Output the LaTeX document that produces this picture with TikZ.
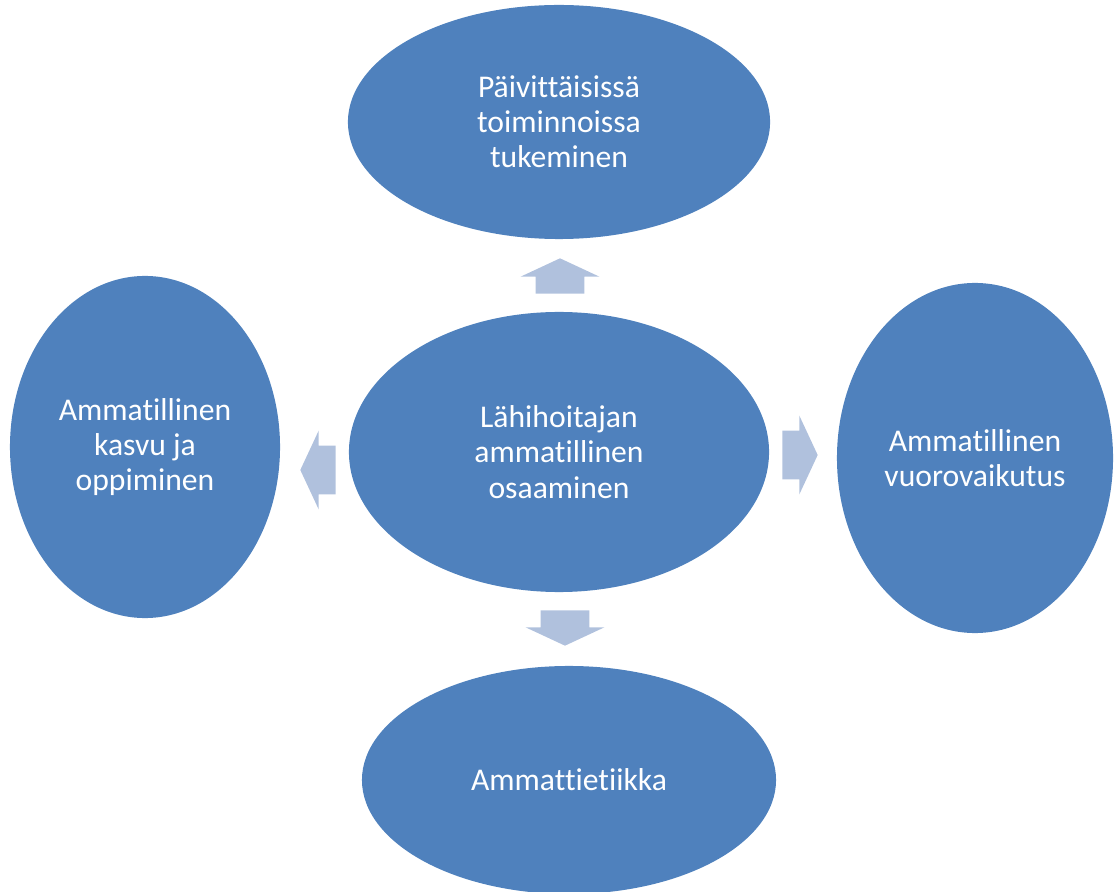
\documentclass[tikz,border=0pt]{standalone}
\usepackage{fontspec}
\setmainfont{Carlito}[Ligatures=NoCommon]
\usetikzlibrary{shapes.geometric,shapes.arrows}
\definecolor{ovalblue}{HTML}{4F81BD}
\definecolor{arrowblue}{HTML}{B0C1DD}
\tikzset{
	oval/.style={ellipse, fill=ovalblue, text=white, align=center, inner sep=0pt, font=\fontsize{22.5}{25}\selectfont},
	blockarrow/.style={single arrow, fill=arrowblue, inner xsep=0pt, inner ysep=0.6cm, minimum width=1.96cm, minimum height=0.88cm, single arrow head extend=0.38cm, single arrow tip angle=130}
}
\begin{document}
\begin{tikzpicture}[x=0.025cm, y=-0.025cm]
		\useasboundingbox (0,0) rectangle (1114,892);
		\node (paivittainen) at (559,122) [oval, minimum width=10.55cm, minimum height=5.85cm] {Päivittäisissä\\toiminnoissa\\tukeminen};
		\node (osaaminen) at (559,452) [oval, minimum width=10.5cm, minimum height=7cm] {Lähihoitajan\\ammatillinen\\osaaminen};
		\node (kasvu) at (145,447) [oval, minimum width=6.75cm, minimum height=8.55cm] {Ammatillinen\\kasvu ja\\oppiminen};
		\node (vuorovaikutus) at (975,458) [oval, minimum width=6.9cm, minimum height=8.75cm] {Ammatillinen\\vuorovaikutus};
		\node (etiikka) at (569,780) [oval, minimum width=10.35cm, minimum height=5.7cm] {Ammattietiikka};
		\node (ylos) at (560,258) [blockarrow, rotate=90, anchor=tip] {};
		\node (oikea) at (818,455) [blockarrow, anchor=tip] {};
		\node (alas) at (565,646) [blockarrow, rotate=-90, anchor=tip] {};
		\node (vasen) at (300,470) [blockarrow, rotate=180, anchor=tip] {};
\end{tikzpicture}
\end{document}
